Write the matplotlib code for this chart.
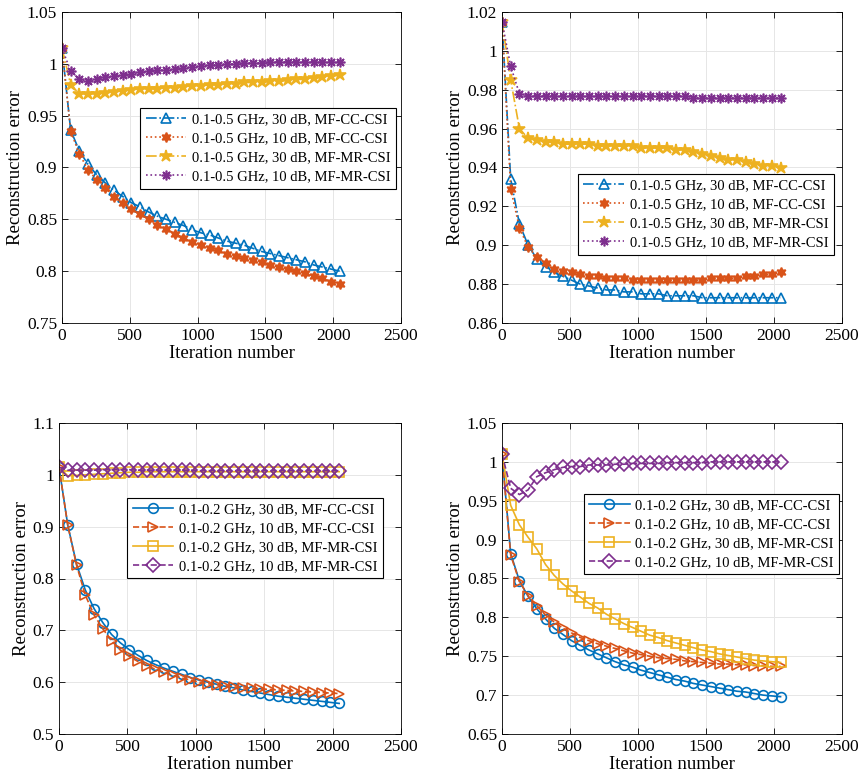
import numpy as np
import matplotlib.pyplot as plt
from matplotlib.ticker import FuncFormatter

plt.rcParams['font.family'] = ['Liberation Serif', 'DejaVu Serif']
plt.rcParams['mathtext.fontset'] = 'stix'

iters = np.arange(0, 2049, 64)

# panel (a) 0.1-0.5 GHz
a_cc30 = [1.015, 0.936, 0.916, 0.903, 0.893, 0.885, 0.878, 0.872, 0.866, 0.862, 0.857, 0.853, 0.850,
          0.847, 0.844, 0.840, 0.837, 0.835, 0.832, 0.829, 0.827, 0.825, 0.822, 0.819, 0.817, 0.815,
          0.813, 0.811, 0.809, 0.806, 0.804, 0.802, 0.800]
a_cc10 = [1.015, 0.935, 0.913, 0.898, 0.888, 0.880, 0.872, 0.866, 0.860, 0.855, 0.850, 0.845, 0.841,
          0.836, 0.832, 0.828, 0.825, 0.822, 0.820, 0.817, 0.815, 0.813, 0.811, 0.809, 0.806, 0.804,
          0.802, 0.800, 0.798, 0.795, 0.793, 0.790, 0.788]
a_mr30 = [1.015, 0.980, 0.971, 0.971, 0.971, 0.972, 0.973, 0.974, 0.975, 0.976, 0.976, 0.976, 0.977,
          0.977, 0.978, 0.979, 0.979, 0.980, 0.980, 0.981, 0.981, 0.982, 0.982, 0.982, 0.983, 0.983,
          0.984, 0.985, 0.985, 0.986, 0.987, 0.988, 0.989]
a_mr10 = [1.015, 0.993, 0.985, 0.983, 0.985, 0.987, 0.988, 0.989, 0.990, 0.992, 0.993, 0.994, 0.994,
          0.995, 0.996, 0.997, 0.998, 0.999, 0.999, 1.000, 1.000, 1.001, 1.001, 1.001, 1.002, 1.002,
          1.002, 1.002, 1.002, 1.002, 1.002, 1.002, 1.002]

# panel (b) 0.1-0.5 GHz
b_cc30 = [1.015, 0.934, 0.911, 0.900, 0.893, 0.889, 0.886, 0.884, 0.882, 0.880, 0.879, 0.878, 0.877,
          0.877, 0.876, 0.876, 0.875, 0.875, 0.875, 0.874, 0.874, 0.874, 0.874, 0.873, 0.873, 0.873,
          0.873, 0.873, 0.873, 0.873, 0.873, 0.873, 0.873]
b_cc10 = [1.015, 0.929, 0.909, 0.899, 0.894, 0.891, 0.888, 0.887, 0.886, 0.885, 0.884, 0.884, 0.883,
          0.883, 0.883, 0.882, 0.882, 0.882, 0.882, 0.882, 0.882, 0.882, 0.882, 0.882, 0.883, 0.883,
          0.883, 0.883, 0.884, 0.884, 0.885, 0.885, 0.886]
b_mr30 = [1.015, 0.985, 0.960, 0.955, 0.954, 0.953, 0.953, 0.952, 0.952, 0.952, 0.952, 0.951, 0.951,
          0.951, 0.951, 0.951, 0.950, 0.950, 0.950, 0.950, 0.949, 0.949, 0.948, 0.947, 0.946, 0.945,
          0.944, 0.944, 0.943, 0.942, 0.941, 0.941, 0.940]
b_mr10 = [1.015, 0.992, 0.978, 0.977, 0.977, 0.977, 0.977, 0.977, 0.977, 0.977, 0.977, 0.977, 0.977,
          0.977, 0.977, 0.977, 0.977, 0.977, 0.977, 0.977, 0.977, 0.977, 0.976, 0.976, 0.976, 0.976,
          0.976, 0.976, 0.976, 0.976, 0.976, 0.976, 0.976]

# panel (c) 0.1-0.2 GHz
c_cc30 = [1.015, 0.903, 0.828, 0.778, 0.742, 0.715, 0.692, 0.676, 0.663, 0.652, 0.642, 0.634, 0.627,
          0.621, 0.615, 0.609, 0.604, 0.600, 0.596, 0.592, 0.589, 0.585, 0.582, 0.579, 0.576, 0.573,
          0.571, 0.569, 0.567, 0.565, 0.563, 0.561, 0.559]
c_cc10 = [1.015, 0.903, 0.826, 0.768, 0.730, 0.703, 0.680, 0.662, 0.650, 0.640, 0.632, 0.625, 0.619,
          0.613, 0.608, 0.604, 0.600, 0.597, 0.595, 0.593, 0.591, 0.589, 0.588, 0.587, 0.586, 0.585,
          0.584, 0.583, 0.582, 0.581, 0.580, 0.579, 0.578]
c_mr30 = [1.015, 0.998, 0.999, 1.000, 1.001, 1.002, 1.003, 1.004, 1.005, 1.005, 1.006, 1.006, 1.006,
          1.006, 1.006, 1.006, 1.006, 1.006, 1.006, 1.006, 1.006, 1.006, 1.006, 1.006, 1.006, 1.006,
          1.006, 1.006, 1.006, 1.006, 1.006, 1.006, 1.006]
c_mr10 = [1.015, 1.009, 1.009, 1.009, 1.009, 1.010, 1.010, 1.010, 1.010, 1.009, 1.009, 1.009, 1.009,
          1.009, 1.009, 1.009, 1.008, 1.008, 1.008, 1.008, 1.008, 1.008, 1.008, 1.008, 1.008, 1.008,
          1.008, 1.008, 1.008, 1.008, 1.008, 1.008, 1.008]

# panel (d) 0.1-0.2 GHz
d_cc30 = [1.010, 0.882, 0.847, 0.827, 0.811, 0.798, 0.786, 0.778, 0.770, 0.764, 0.758, 0.753, 0.748,
          0.743, 0.739, 0.736, 0.732, 0.729, 0.726, 0.723, 0.720, 0.718, 0.715, 0.713, 0.711, 0.709,
          0.707, 0.705, 0.704, 0.702, 0.700, 0.699, 0.698]
d_cc10 = [1.010, 0.880, 0.846, 0.828, 0.815, 0.803, 0.794, 0.786, 0.780, 0.774, 0.770, 0.766, 0.763,
          0.760, 0.757, 0.754, 0.752, 0.750, 0.748, 0.747, 0.746, 0.744, 0.743, 0.742, 0.741, 0.740,
          0.740, 0.739, 0.739, 0.738, 0.738, 0.737, 0.737]
d_mr30 = [1.010, 0.944, 0.919, 0.903, 0.888, 0.868, 0.854, 0.843, 0.834, 0.826, 0.818, 0.812, 0.804,
          0.798, 0.792, 0.787, 0.782, 0.777, 0.774, 0.770, 0.767, 0.764, 0.761, 0.758, 0.756, 0.753,
          0.751, 0.749, 0.747, 0.745, 0.744, 0.743, 0.742]
d_mr10 = [1.010, 0.966, 0.958, 0.964, 0.981, 0.986, 0.990, 0.993, 0.994, 0.994, 0.996, 0.996, 0.996,
          0.997, 0.997, 0.998, 0.998, 0.998, 0.998, 0.999, 0.999, 0.999, 0.999, 0.999, 1.000, 1.000,
          1.000, 1.000, 1.000, 1.000, 1.000, 1.000, 1.000]

labels_05 = ["0.1-0.5 GHz, 30 dB, MF-CC-CSI", "0.1-0.5 GHz, 10 dB, MF-CC-CSI",
             "0.1-0.5 GHz, 30 dB, MF-MR-CSI", "0.1-0.5 GHz, 10 dB, MF-MR-CSI"]
labels_02 = ["0.1-0.2 GHz, 30 dB, MF-CC-CSI", "0.1-0.2 GHz, 10 dB, MF-CC-CSI",
             "0.1-0.2 GHz, 30 dB, MF-MR-CSI", "0.1-0.2 GHz, 10 dB, MF-MR-CSI"]

colors = ['#0072BD', '#D95319', '#EDB120', '#7E2F8E']

# marker, linestyle, filled
style_05 = [('^', '-.', False), ((6, 1, 0), ':', True), ('*', '-.', True), ((8, 2, 0), ':', True)]
style_02 = [('o', '-', False), ('>', '--', False), ('s', '-', False), ('D', '--', False)]

fig = plt.figure(figsize=(8.63, 7.84), dpi=100)
W, H = 863, 784
boxes = [(62, 12, 401, 323), (502, 12, 842, 323), (59, 423, 401, 734), (502, 423, 842, 734)]
panels = [
    ([a_cc30, a_cc10, a_mr30, a_mr10], labels_05, style_05, (0.75, 1.05), np.arange(0.75, 1.051, 0.05), (0.985, 0.691)),
    ([b_cc30, b_cc10, b_mr30, b_mr10], labels_05, style_05, (0.86, 1.02), np.arange(0.86, 1.021, 0.02), (0.976, 0.479)),
    ([c_cc30, c_cc10, c_mr30, c_mr10], labels_02, style_02, (0.5, 1.1), np.arange(0.5, 1.101, 0.1), (0.947, 0.759)),
    ([d_cc30, d_cc10, d_mr30, d_mr10], labels_02, style_02, (0.65, 1.05), np.arange(0.65, 1.051, 0.05), (0.991, 0.772)),
]

fmt = FuncFormatter(lambda v, p: ('%.3f' % v).rstrip('0').rstrip('.'))

for (l, t, r, b), (series, labels, styles, ylim, yt, anchor) in zip(boxes, panels):
    ax = fig.add_axes([l / W, 1 - b / H, (r - l) / W, (b - t) / H])
    for ys, lab, (mk, ls, filled), c in zip(series, labels, styles, colors):
        ms = 9 if mk == '*' else 7
        ax.plot(iters, ys, linestyle=ls, color=c, marker=mk, markersize=ms, linewidth=1.2,
                markerfacecolor=c if filled else 'none', markeredgecolor=c, markeredgewidth=1.2,
                label=lab)
    ax.set_xlim(0, 2500)
    ax.set_ylim(*ylim)
    ax.set_xticks(np.arange(0, 2501, 500))
    ax.set_yticks(yt)
    ax.yaxis.set_major_formatter(fmt)
    ax.grid(True, color='#e6e6e6', linewidth=0.7)
    ax.set_axisbelow(True)
    ax.tick_params(direction='in', top=True, right=True, labelsize=12.5, length=4, width=0.6)
    for s in ax.spines.values():
        s.set_linewidth(0.6)
    ax.set_xlabel("Iteration number", fontsize=13.5, labelpad=1)
    ax.set_ylabel("Reconstruction error", fontsize=13.5, labelpad=2)
    leg = ax.legend(loc='upper right', bbox_to_anchor=anchor, fontsize=10.5, fancybox=False,
                    edgecolor='black', framealpha=1, handlelength=2.8, borderpad=0.35,
                    labelspacing=0.4, handletextpad=0.4, borderaxespad=0)
    leg.get_frame().set_linewidth(0.8)

fig.savefig("out.png", dpi=100)
